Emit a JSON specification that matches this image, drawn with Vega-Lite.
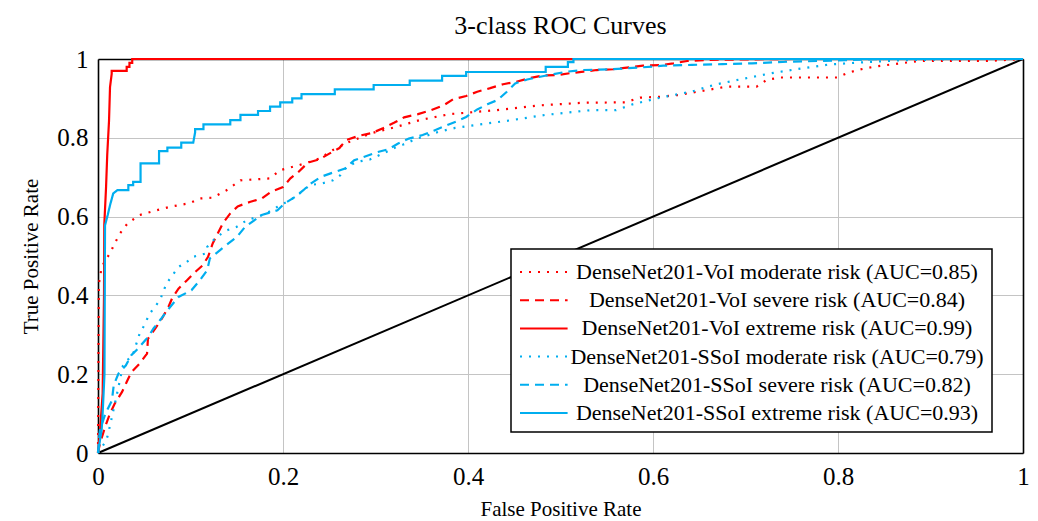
{
  "$schema": "https://vega.github.io/schema/vega-lite/v6.json",
  "width": 925,
  "height": 394,
  "autosize": {"type": "none"},
  "padding": {"left": 98, "top": 59, "right": 15, "bottom": 68},
  "background": "white",
  "title": {"text": "3-class ROC Curves", "fontSize": 26, "font": "Liberation Serif", "fontWeight": "normal", "offset": 8, "color": "black"},
  "config": {
    "font": "Liberation Serif",
    "view": {"stroke": null},
    "axis": {
      "domainColor": "black", "domainWidth": 1.6,
      "gridColor": "#c4c4c4", "gridWidth": 1,
      "tickSize": 0,
      "labelFont": "Liberation Serif", "labelFontSize": 25, "labelColor": "black", "labelFlush": false,
      "titleFont": "Liberation Serif", "titleFontSize": 21, "titleFontWeight": "normal", "titleColor": "black"
    },
    "legend": {
      "orient": "none", "legendX": 413, "legendY": 190,
      "strokeColor": "black", "strokeWidth": 1.5, "fillColor": "white", "padding": 8,
      "labelFont": "Liberation Serif", "labelFontSize": 22, "labelColor": "black", "labelLimit": 0,
      "labelAlign": "center", "labelOffset": 228,
      "symbolType": "M-1,0H2.4", "symbolSize": 784, "symbolStrokeWidth": 2,
      "rowPadding": 2.2
    }
  },
  "layer": [
    {
      "data": {"values": [{"x": 0, "y": 0}, {"x": 1, "y": 1}]},
      "mark": {"type": "line", "color": "black", "strokeWidth": 2},
      "encoding": {
        "x": {"field": "x", "type": "quantitative", "scale": {"domain": [0, 1], "nice": false},
          "axis": {"title": "False Positive Rate", "orient": "bottom", "values": [0, 0.2, 0.4, 0.6, 0.8, 1], "format": "~g", "labelPadding": 11, "titlePadding": 9}},
        "y": {"field": "y", "type": "quantitative", "scale": {"domain": [0, 1], "nice": false},
          "axis": {"title": "True Positive Rate", "orient": "left", "values": [0, 0.2, 0.4, 0.6, 0.8, 1], "format": "~g", "labelPadding": 10, "titlePadding": 15}}
      }
    },
    {
      "data": {"values": [
        {"s":"A","x":0,"y":0},{"s":"A","x":0.0005,"y":0.25},{"s":"A","x":0.001,"y":0.43},{"s":"A","x":0.004,"y":0.472},{"s":"A","x":0.008,"y":0.489},{"s":"A","x":0.013,"y":0.507},{"s":"A","x":0.018,"y":0.532},{"s":"A","x":0.024,"y":0.558},{"s":"A","x":0.032,"y":0.583},{"s":"A","x":0.045,"y":0.604},{"s":"A","x":0.063,"y":0.616},{"s":"A","x":0.078,"y":0.625},{"s":"A","x":0.099,"y":0.634},{"s":"A","x":0.11,"y":0.646},{"s":"A","x":0.124,"y":0.648},{"s":"A","x":0.139,"y":0.667},{"s":"A","x":0.154,"y":0.692},{"s":"A","x":0.186,"y":0.697},{"s":"A","x":0.197,"y":0.718},{"s":"A","x":0.218,"y":0.731},{"s":"A","x":0.229,"y":0.739},{"s":"A","x":0.24,"y":0.748},{"s":"A","x":0.254,"y":0.769},{"s":"A","x":0.272,"y":0.79},{"s":"A","x":0.296,"y":0.812},{"s":"A","x":0.323,"y":0.828},{"s":"A","x":0.348,"y":0.845},{"s":"A","x":0.38,"y":0.86},{"s":"A","x":0.43,"y":0.87},{"s":"A","x":0.476,"y":0.882},{"s":"A","x":0.524,"y":0.889},{"s":"A","x":0.57,"y":0.89},{"s":"A","x":0.586,"y":0.902},{"s":"A","x":0.608,"y":0.904},{"s":"A","x":0.629,"y":0.909},{"s":"A","x":0.638,"y":0.913},{"s":"A","x":0.658,"y":0.921},{"s":"A","x":0.68,"y":0.93},{"s":"A","x":0.712,"y":0.93},{"s":"A","x":0.723,"y":0.947},{"s":"A","x":0.737,"y":0.953},{"s":"A","x":0.799,"y":0.953},{"s":"A","x":0.81,"y":0.964},{"s":"A","x":0.821,"y":0.972},{"s":"A","x":0.838,"y":0.98},{"s":"A","x":0.867,"y":0.989},{"s":"A","x":0.889,"y":0.995},{"s":"A","x":0.961,"y":0.995},{"s":"A","x":1,"y":1},

        {"s":"B","x":0,"y":0},{"s":"B","x":0.002,"y":0.023},{"s":"B","x":0.0076,"y":0.066},{"s":"B","x":0.013,"y":0.1},{"s":"B","x":0.018,"y":0.125},{"s":"B","x":0.026,"y":0.155},{"s":"B","x":0.031,"y":0.18},{"s":"B","x":0.036,"y":0.205},{"s":"B","x":0.045,"y":0.227},{"s":"B","x":0.053,"y":0.252},{"s":"B","x":0.054,"y":0.29},{"s":"B","x":0.062,"y":0.316},{"s":"B","x":0.069,"y":0.341},{"s":"B","x":0.076,"y":0.37},{"s":"B","x":0.08,"y":0.392},{"s":"B","x":0.087,"y":0.417},{"s":"B","x":0.096,"y":0.438},{"s":"B","x":0.103,"y":0.455},{"s":"B","x":0.113,"y":0.476},{"s":"B","x":0.119,"y":0.498},{"s":"B","x":0.124,"y":0.532},{"s":"B","x":0.135,"y":0.583},{"s":"B","x":0.143,"y":0.608},{"s":"B","x":0.151,"y":0.626},{"s":"B","x":0.164,"y":0.637},{"s":"B","x":0.177,"y":0.646},{"s":"B","x":0.187,"y":0.663},{"s":"B","x":0.2,"y":0.675},{"s":"B","x":0.208,"y":0.697},{"s":"B","x":0.217,"y":0.714},{"s":"B","x":0.227,"y":0.737},{"s":"B","x":0.239,"y":0.745},{"s":"B","x":0.251,"y":0.761},{"s":"B","x":0.261,"y":0.774},{"s":"B","x":0.268,"y":0.794},{"s":"B","x":0.282,"y":0.805},{"s":"B","x":0.296,"y":0.812},{"s":"B","x":0.308,"y":0.824},{"s":"B","x":0.32,"y":0.838},{"s":"B","x":0.331,"y":0.852},{"s":"B","x":0.346,"y":0.86},{"s":"B","x":0.36,"y":0.87},{"s":"B","x":0.374,"y":0.883},{"s":"B","x":0.384,"y":0.898},{"s":"B","x":0.398,"y":0.906},{"s":"B","x":0.41,"y":0.917},{"s":"B","x":0.424,"y":0.926},{"s":"B","x":0.438,"y":0.936},{"s":"B","x":0.452,"y":0.942},{"s":"B","x":0.466,"y":0.951},{"s":"B","x":0.481,"y":0.958},{"s":"B","x":0.496,"y":0.959},{"s":"B","x":0.51,"y":0.964},{"s":"B","x":0.525,"y":0.968},{"s":"B","x":0.539,"y":0.972},{"s":"B","x":0.557,"y":0.974},{"s":"B","x":0.589,"y":0.983},{"s":"B","x":0.61,"y":0.985},{"s":"B","x":0.622,"y":0.989},{"s":"B","x":0.637,"y":0.995},{"s":"B","x":0.66,"y":0.998},{"s":"B","x":0.75,"y":1},{"s":"B","x":1,"y":1},

        {"s":"C","x":0,"y":0},{"s":"C","x":0.002,"y":0.05},{"s":"C","x":0.005,"y":0.15},{"s":"C","x":0.0065,"y":0.4},{"s":"C","x":0.0068,"y":0.58},{"s":"C","x":0.0087,"y":0.674},{"s":"C","x":0.01,"y":0.758},{"s":"C","x":0.0119,"y":0.842},{"s":"C","x":0.013,"y":0.929},{"s":"C","x":0.0148,"y":0.962},{"s":"C","x":0.0148,"y":0.97},{"s":"C","x":0.031,"y":0.97},{"s":"C","x":0.031,"y":0.98},{"s":"C","x":0.034,"y":0.98},{"s":"C","x":0.034,"y":0.99},{"s":"C","x":0.037,"y":0.99},{"s":"C","x":0.037,"y":1},{"s":"C","x":1,"y":1},

        {"s":"D","x":0,"y":0},{"s":"D","x":0.009,"y":0.032},{"s":"D","x":0.011,"y":0.049},{"s":"D","x":0.019,"y":0.133},{"s":"D","x":0.027,"y":0.222},{"s":"D","x":0.038,"y":0.252},{"s":"D","x":0.045,"y":0.303},{"s":"D","x":0.049,"y":0.32},{"s":"D","x":0.056,"y":0.354},{"s":"D","x":0.067,"y":0.388},{"s":"D","x":0.074,"y":0.43},{"s":"D","x":0.078,"y":0.443},{"s":"D","x":0.087,"y":0.472},{"s":"D","x":0.096,"y":0.485},{"s":"D","x":0.103,"y":0.498},{"s":"D","x":0.116,"y":0.506},{"s":"D","x":0.118,"y":0.523},{"s":"D","x":0.128,"y":0.548},{"s":"D","x":0.139,"y":0.565},{"s":"D","x":0.15,"y":0.574},{"s":"D","x":0.161,"y":0.591},{"s":"D","x":0.172,"y":0.599},{"s":"D","x":0.182,"y":0.608},{"s":"D","x":0.194,"y":0.625},{"s":"D","x":0.208,"y":0.642},{"s":"D","x":0.218,"y":0.659},{"s":"D","x":0.229,"y":0.68},{"s":"D","x":0.242,"y":0.684},{"s":"D","x":0.254,"y":0.692},{"s":"D","x":0.262,"y":0.705},{"s":"D","x":0.269,"y":0.726},{"s":"D","x":0.28,"y":0.739},{"s":"D","x":0.294,"y":0.745},{"s":"D","x":0.308,"y":0.76},{"s":"D","x":0.323,"y":0.777},{"s":"D","x":0.33,"y":0.783},{"s":"D","x":0.345,"y":0.798},{"s":"D","x":0.368,"y":0.815},{"s":"D","x":0.386,"y":0.825},{"s":"D","x":0.413,"y":0.834},{"s":"D","x":0.448,"y":0.845},{"s":"D","x":0.483,"y":0.858},{"s":"D","x":0.532,"y":0.87},{"s":"D","x":0.56,"y":0.87},{"s":"D","x":0.578,"y":0.885},{"s":"D","x":0.608,"y":0.902},{"s":"D","x":0.643,"y":0.918},{"s":"D","x":0.667,"y":0.935},{"s":"D","x":0.7,"y":0.951},{"s":"D","x":0.728,"y":0.964},{"s":"D","x":0.755,"y":0.974},{"s":"D","x":0.79,"y":0.986},{"s":"D","x":0.83,"y":0.992},{"s":"D","x":0.87,"y":0.997},{"s":"D","x":0.95,"y":1},{"s":"D","x":1,"y":1},

        {"s":"E","x":0,"y":0},{"s":"E","x":0.002,"y":0.057},{"s":"E","x":0.008,"y":0.1},{"s":"E","x":0.015,"y":0.133},{"s":"E","x":0.017,"y":0.172},{"s":"E","x":0.022,"y":0.201},{"s":"E","x":0.03,"y":0.222},{"s":"E","x":0.036,"y":0.248},{"s":"E","x":0.042,"y":0.262},{"s":"E","x":0.054,"y":0.294},{"s":"E","x":0.06,"y":0.316},{"s":"E","x":0.068,"y":0.34},{"s":"E","x":0.075,"y":0.362},{"s":"E","x":0.087,"y":0.396},{"s":"E","x":0.101,"y":0.413},{"s":"E","x":0.11,"y":0.438},{"s":"E","x":0.118,"y":0.464},{"s":"E","x":0.121,"y":0.494},{"s":"E","x":0.132,"y":0.515},{"s":"E","x":0.141,"y":0.532},{"s":"E","x":0.15,"y":0.548},{"s":"E","x":0.159,"y":0.574},{"s":"E","x":0.177,"y":0.604},{"s":"E","x":0.194,"y":0.616},{"s":"E","x":0.202,"y":0.634},{"s":"E","x":0.213,"y":0.65},{"s":"E","x":0.222,"y":0.667},{"s":"E","x":0.23,"y":0.684},{"s":"E","x":0.241,"y":0.701},{"s":"E","x":0.253,"y":0.711},{"s":"E","x":0.267,"y":0.722},{"s":"E","x":0.277,"y":0.743},{"s":"E","x":0.288,"y":0.752},{"s":"E","x":0.301,"y":0.763},{"s":"E","x":0.314,"y":0.771},{"s":"E","x":0.324,"y":0.785},{"s":"E","x":0.336,"y":0.798},{"s":"E","x":0.351,"y":0.807},{"s":"E","x":0.363,"y":0.818},{"s":"E","x":0.375,"y":0.83},{"s":"E","x":0.387,"y":0.841},{"s":"E","x":0.398,"y":0.853},{"s":"E","x":0.41,"y":0.872},{"s":"E","x":0.421,"y":0.885},{"s":"E","x":0.432,"y":0.896},{"s":"E","x":0.442,"y":0.917},{"s":"E","x":0.451,"y":0.938},{"s":"E","x":0.464,"y":0.948},{"s":"E","x":0.478,"y":0.955},{"s":"E","x":0.507,"y":0.968},{"s":"E","x":0.524,"y":0.972},{"s":"E","x":0.556,"y":0.974},{"s":"E","x":0.589,"y":0.979},{"s":"E","x":0.611,"y":0.983},{"s":"E","x":0.642,"y":0.985},{"s":"E","x":0.675,"y":0.987},{"s":"E","x":0.707,"y":0.989},{"s":"E","x":0.745,"y":0.993},{"s":"E","x":0.779,"y":0.995},{"s":"E","x":0.808,"y":0.997},{"s":"E","x":0.85,"y":1},{"s":"E","x":1,"y":1},

        {"s":"F","x":0,"y":0},{"s":"F","x":0.002,"y":0.03},{"s":"F","x":0.004,"y":0.06},{"s":"F","x":0.005,"y":0.1},{"s":"F","x":0.007,"y":0.2},{"s":"F","x":0.0076,"y":0.578},{"s":"F","x":0.0105,"y":0.604},{"s":"F","x":0.013,"y":0.629},{"s":"F","x":0.0165,"y":0.659},{"s":"F","x":0.0209,"y":0.667},{"s":"F","x":0.0328,"y":0.667},{"s":"F","x":0.0328,"y":0.68},{"s":"F","x":0.038,"y":0.68},{"s":"F","x":0.038,"y":0.688},{"s":"F","x":0.046,"y":0.688},{"s":"F","x":0.046,"y":0.735},{"s":"F","x":0.066,"y":0.735},{"s":"F","x":0.066,"y":0.766},{"s":"F","x":0.075,"y":0.766},{"s":"F","x":0.075,"y":0.775},{"s":"F","x":0.09,"y":0.775},{"s":"F","x":0.09,"y":0.788},{"s":"F","x":0.103,"y":0.788},{"s":"F","x":0.105,"y":0.814},{"s":"F","x":0.105,"y":0.822},{"s":"F","x":0.114,"y":0.822},{"s":"F","x":0.114,"y":0.834},{"s":"F","x":0.143,"y":0.834},{"s":"F","x":0.143,"y":0.845},{"s":"F","x":0.154,"y":0.845},{"s":"F","x":0.154,"y":0.858},{"s":"F","x":0.173,"y":0.858},{"s":"F","x":0.173,"y":0.868},{"s":"F","x":0.186,"y":0.868},{"s":"F","x":0.186,"y":0.879},{"s":"F","x":0.197,"y":0.879},{"s":"F","x":0.197,"y":0.89},{"s":"F","x":0.21,"y":0.89},{"s":"F","x":0.21,"y":0.9},{"s":"F","x":0.22,"y":0.9},{"s":"F","x":0.22,"y":0.911},{"s":"F","x":0.256,"y":0.911},{"s":"F","x":0.256,"y":0.923},{"s":"F","x":0.298,"y":0.923},{"s":"F","x":0.298,"y":0.934},{"s":"F","x":0.337,"y":0.934},{"s":"F","x":0.337,"y":0.945},{"s":"F","x":0.372,"y":0.945},{"s":"F","x":0.372,"y":0.957},{"s":"F","x":0.398,"y":0.957},{"s":"F","x":0.398,"y":0.967},{"s":"F","x":0.484,"y":0.967},{"s":"F","x":0.484,"y":0.98},{"s":"F","x":0.508,"y":0.98},{"s":"F","x":0.508,"y":0.992},{"s":"F","x":0.514,"y":0.992},{"s":"F","x":0.514,"y":1},{"s":"F","x":1,"y":1}
      ]},
      "mark": {"type": "line", "strokeWidth": 2.2},
      "encoding": {
        "x": {"field": "x", "type": "quantitative",
          "axis": {"orient": "top", "title": null, "labels": false, "grid": false, "zindex": 0, "values": [0, 0.2, 0.4, 0.6, 0.8, 1]}},
        "y": {"field": "y", "type": "quantitative",
          "axis": {"orient": "right", "title": null, "labels": false, "grid": false, "zindex": 0, "values": [0, 0.2, 0.4, 0.6, 0.8, 1]}},
        "order": {"value": null},
        "color": {"field": "s", "type": "nominal",
          "scale": {"domain": ["A", "B", "C", "D", "E", "F"], "range": ["#ff0000", "#ff0000", "#ff0000", "#00aeef", "#00aeef", "#00aeef"]},
          "legend": {"title": null, "labelExpr": "'      ' + {'A':'DenseNet201-VoI moderate risk (AUC=0.85)','B':'DenseNet201-VoI severe risk (AUC=0.84)','C':'DenseNet201-VoI extreme risk (AUC=0.99)','D':'DenseNet201-SSoI moderate risk (AUC=0.79)','E':'DenseNet201-SSoI severe risk (AUC=0.82)','F':'DenseNet201-SSoI extreme risk (AUC=0.93)'}[datum.label] + '      '"}},
        "strokeDash": {"field": "s", "type": "nominal",
          "scale": {"domain": ["A", "B", "C", "D", "E", "F"], "range": [[2, 7], [9, 6], [1, 0], [2, 7], [9, 6], [1, 0]]},
          "legend": {"title": null, "labelExpr": "'      ' + {'A':'DenseNet201-VoI moderate risk (AUC=0.85)','B':'DenseNet201-VoI severe risk (AUC=0.84)','C':'DenseNet201-VoI extreme risk (AUC=0.99)','D':'DenseNet201-SSoI moderate risk (AUC=0.79)','E':'DenseNet201-SSoI severe risk (AUC=0.82)','F':'DenseNet201-SSoI extreme risk (AUC=0.93)'}[datum.label] + '      '"}}
      }
    }
  ]
}
